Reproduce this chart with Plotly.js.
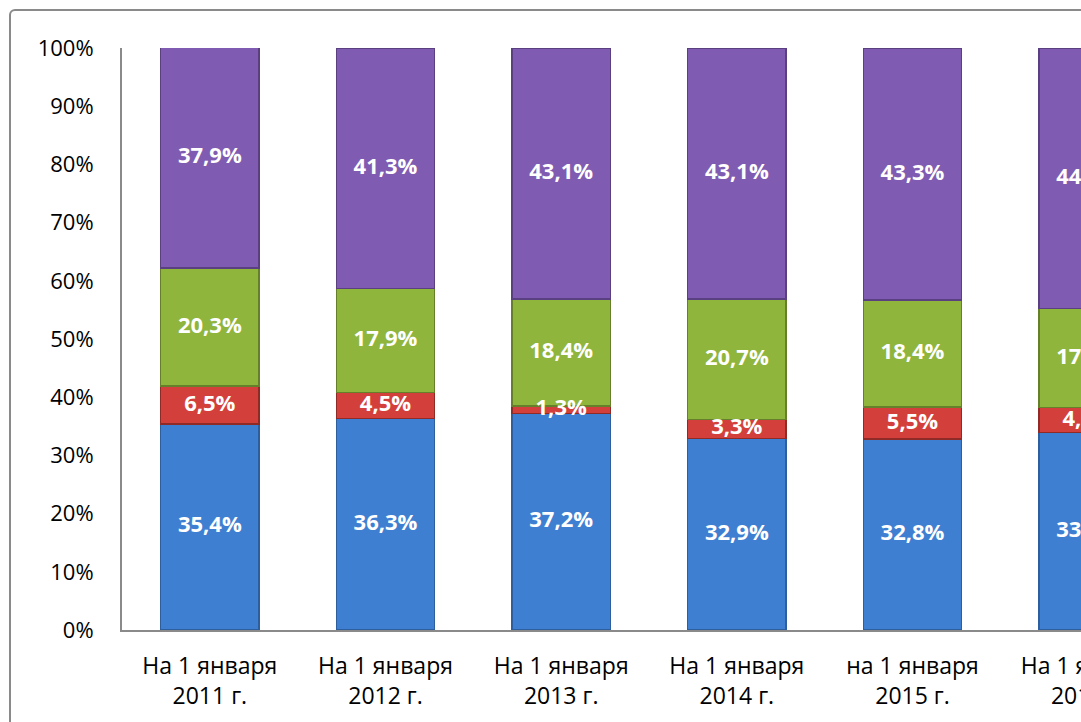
<!DOCTYPE html>
<html>
<head>
<meta charset="utf-8">
<script src="https://cdn.plot.ly/plotly-3.0.1.min.js"></script>
<style>
  html, body { margin: 0; padding: 0; overflow: hidden; background: #fff; width: 1081px; height: 722px; }
  #frame { position: absolute; left: 9px; top: 9px; width: 1300px; height: 900px; border: 2px solid #8a8a8a; border-radius: 6px; }
  #chart { position: absolute; left: 0; top: 0; }
</style>
</head>
<body>
<div id="frame"></div>
<div id="chart"></div>
<script>
const categories = [
  "На 1 января<br>2011 г.",
  "На 1 января<br>2012 г.",
  "На 1 января<br>2013 г.",
  "На 1 января<br>2014 г.",
  "на 1 января<br>2015 г.",
  "На 1 января<br>2016 г."
];
const blueValues   = [35.4, 36.3, 37.2, 32.9, 32.8, 33.9];
const redValues    = [6.5, 4.5, 1.3, 3.3, 5.5, 4.3];
const greenValues  = [20.3, 17.9, 18.4, 20.7, 18.4, 17.0];
const purpleValues = [37.9, 41.3, 43.1, 43.1, 43.3, 44.8];
const yTickVals = [0, 10, 20, 30, 40, 50, 60, 70, 80, 90, 100];
const yTickText = ["0%", "10%", "20%", "30%", "40%", "50%", "60%", "70%", "80%", "90%", "100%"];

const fmt = v => v.toFixed(1).replace('.', ',') + '%';
const FONT = "'Open Sans', sans-serif";
const xIdx = categories.map((c, i) => i);

const seriesList = [
  { vals: blueValues,   fill: '#3f7fd2', line: '#2d5f9e' },
  { vals: redValues,    fill: '#d3403b', line: '#8f2a27' },
  { vals: greenValues,  fill: '#8fb53c', line: '#667f2a' },
  { vals: purpleValues, fill: '#7f5cb1', line: '#5a4080' }
];

const data = [];
const base = xIdx.map(() => 0);
const labelTraces = [];
seriesList.forEach(s => {
  data.push({
    type: 'bar',
    x: xIdx,
    y: s.vals,
    marker: { color: s.fill, line: { color: s.line, width: 1.5 } },
    hoverinfo: 'skip',
    showlegend: false
  });
  const mids = s.vals.map((v, i) => base[i] + v / 2);
  s.vals.forEach((v, i) => { base[i] += v; });
  labelTraces.push({
    type: 'scatter',
    mode: 'text',
    x: xIdx,
    y: mids,
    text: s.vals.map(fmt),
    textposition: 'middle center',
    cliponaxis: false,
    textfont: { family: FONT, size: 22, color: '#ffffff', weight: 'bold' },
    hoverinfo: 'skip',
    showlegend: false
  });
});
labelTraces.forEach(t => data.push(t));

const layout = {
  width: 1300,
  height: 800,
  margin: { l: 122, r: 124, t: 48, b: 170 },
  barmode: 'stack',
  bargap: 0.44,
  paper_bgcolor: 'rgba(0,0,0,0)',
  plot_bgcolor: 'rgba(0,0,0,0)',
  font: { family: FONT, size: 22, color: '#000' },
  xaxis: {
    range: [-0.5, 5.5],
    tickvals: xIdx,
    ticktext: categories,
    showline: true, linecolor: '#8a8a8a', linewidth: 2,
    ticks: 'outside', ticklen: 14, tickcolor: 'rgba(0,0,0,0)',
    showgrid: false, zeroline: false,
    tickfont: { family: FONT, size: 23, color: '#000' }
  },
  yaxis: {
    range: [0, 100],
    tickvals: yTickVals,
    ticktext: yTickText,
    showline: true, linecolor: '#8a8a8a', linewidth: 2,
    ticks: 'outside', ticklen: 22, tickcolor: 'rgba(0,0,0,0)',
    showgrid: false, zeroline: false,
    tickfont: { family: FONT, size: 22, color: '#000' }
  }
};

Plotly.newPlot('chart', data, layout, { staticPlot: true, displayModeBar: false });
</script>
</body>
</html>
